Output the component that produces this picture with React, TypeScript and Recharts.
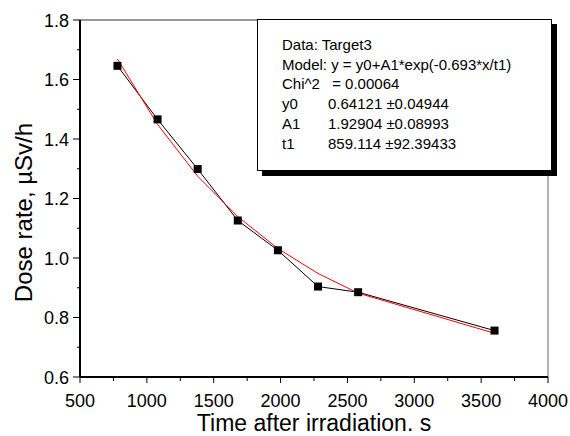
import { LineChart, Line, XAxis, YAxis, ReferenceLine } from "recharts";

// measured dose rate
const times = [780, 1080, 1380, 1680, 1980, 2280, 2580, 3600];
const doseRate = [1.646, 1.466, 1.299, 1.126, 1.026, 0.904, 0.885, 0.756];
// fitted curve read at the same times
const fitRate = [1.669, 1.449, 1.275, 1.139, 1.032, 0.948, 0.882, 0.747];

const xTicks = [500, 750, 1000, 1250, 1500, 1750, 2000, 2250, 2500, 2750, 3000, 3250, 3500, 3750, 4000];
const yTicks = [0.6, 0.7, 0.8, 0.9, 1.0, 1.1, 1.2, 1.3, 1.4, 1.5, 1.6, 1.7, 1.8];

const fitLines = [
  ["Data: Target3", ""],
  ["Model: y = y0+A1*exp(-0.693*x/t1)", ""],
  ["Chi^2", " = 0.00064"],
  ["y0", "0.64121 \u00b10.04944"],
  ["A1", "1.92904 \u00b10.08993"],
  ["t1", "859.114 \u00b192.39433"],
];

const data = times.map((t, i) => ({ t, dose: doseRate[i], fit: fitRate[i] }));

const FONT = '"Liberation Sans", Arial, sans-serif';

function XTick(props: any) {
  const { x, y, payload } = props;
  const major = payload.value % 500 === 0;
  return (
    <g>
      <line x1={x} y1={y} x2={x} y2={y + (major ? 6 : 4)} stroke="#000" strokeWidth={1} />
      {major && (
        <text x={x} y={y + 30} textAnchor="middle" fontSize={18} fill="#000">
          {payload.value}
        </text>
      )}
    </g>
  );
}

function YTick(props: any) {
  const { x, y, payload } = props;
  const major = Math.round(payload.value * 10) % 2 === 0;
  return (
    <g>
      <line x1={x} y1={y} x2={x - (major ? 7 : 3)} y2={y} stroke="#000" strokeWidth={1} />
      {major && (
        <text x={x - 11} y={y + 6.5} textAnchor="end" fontSize={18} fill="#000">
          {payload.value.toFixed(1)}
        </text>
      )}
    </g>
  );
}

function Square(props: any) {
  const { cx, cy } = props;
  return <rect x={cx - 4} y={cy - 4} width={8} height={8} fill="#000" />;
}

export default function App() {
  return (
    <div style={{ position: "absolute", left: 0, top: 0, width: 570, height: 436, background: "#fff", fontFamily: FONT }}>
      <LineChart width={570} height={436} data={data} margin={{ top: 20, right: 22, bottom: 0, left: 0 }}>
        <XAxis
          dataKey="t"
          type="number"
          domain={[500, 4000]}
          ticks={xTicks}
          interval={0}
          height={59}
          tickSize={0}
          tickMargin={0}
          tick={<XTick />}
          axisLine={{ stroke: "#000", strokeWidth: 2 }}
          tickLine={false}
          label={{
            content: ({ viewBox }: any) => (
              <text x={viewBox.x + viewBox.width / 2} y={viewBox.y + 54} textAnchor="middle" fontSize={23} fill="#000">
                Time after irradiation. s
              </text>
            ),
          }}
        />
        <YAxis
          type="number"
          domain={[0.6, 1.8]}
          ticks={yTicks}
          interval={0}
          width={80}
          tickSize={0}
          tickMargin={0}
          tick={<YTick />}
          axisLine={{ stroke: "#000", strokeWidth: 2 }}
          tickLine={false}
          label={{
            content: ({ viewBox }: any) => {
              const cx = viewBox.x + 23;
              const cy = viewBox.y + viewBox.height / 2 + 14;
              return (
                <text
                  x={cx}
                  y={cy}
                  transform={`rotate(-90 ${cx} ${cy})`}
                  textAnchor="middle"
                  dominantBaseline="central"
                  fontSize={24}
                  fill="#000"
                >
                  Dose rate, µSv/h
                </text>
              );
            },
          }}
        />
        <ReferenceLine y={1.8} stroke="#333" strokeWidth={1} />
        <ReferenceLine x={4000} stroke="#666" strokeWidth={1} />
        <Line
          type="linear"
          dataKey="dose"
          stroke="#000"
          strokeWidth={1}
          dot={<Square />}
          isAnimationActive={false}
        />
        <Line type="linear" dataKey="fit" stroke="#ff0000" strokeWidth={1} dot={false} isAnimationActive={false} />
      </LineChart>
      <div
        style={{
          position: "absolute",
          left: 257,
          top: 19,
          width: 295,
          height: 152,
          border: "1px solid #000",
          boxShadow: "5px 5px 0 #000",
          background: "#fff",
          boxSizing: "border-box",
          padding: "15px 0 0 24px",
          fontSize: 15,
          lineHeight: "19.7px",
          color: "#000",
        }}
      >
        {fitLines.map(([a, b], i) => (
          <div key={i} style={{ display: "flex", whiteSpace: "pre" }}>
            <span style={{ width: b ? 46 : undefined }}>{a}</span>
            <span>{b}</span>
          </div>
        ))}
      </div>
    </div>
  );
}
